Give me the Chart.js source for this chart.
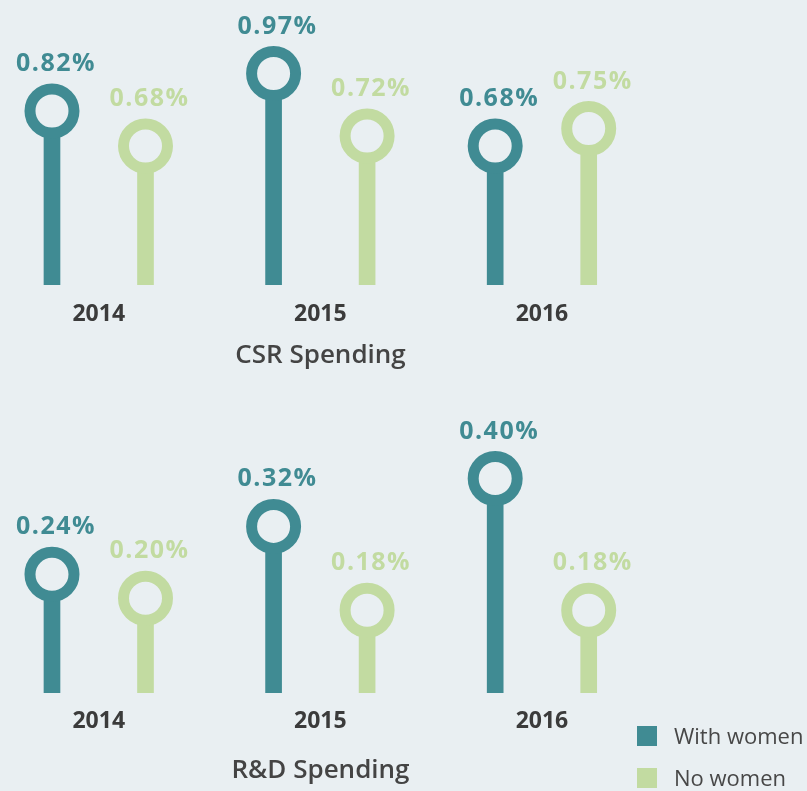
<!DOCTYPE html>
<html>
<head>
<meta charset="utf-8">
<script src="https://cdn.jsdelivr.net/npm/chart.js@4/dist/chart.umd.min.js"></script>
<style>
  html, body { margin: 0; padding: 0; background: #e9eff2; width: 807px; height: 791px; overflow: hidden; position: relative; font-family: "Open Sans", sans-serif; }
  .box { position: absolute; left: 0; width: 807px; }
  #c1wrap { top: 0; height: 380px; }
  #c2wrap { top: 390px; height: 401px; }
  .leg { position: absolute; left: 637px; height: 24px; white-space: nowrap; }
  .leg span.sw { position: absolute; left: 0; top: 3px; width: 20px; height: 20px; }
  .leg span.tx { position: absolute; left: 37px; top: -3px; font-size: 22px; line-height: 30px; color: #474747; }
</style>
</head>
<body>
<div class="box" id="c1wrap"><canvas id="c1" width="807" height="380"></canvas></div>
<div class="box" id="c2wrap"><canvas id="c2" width="807" height="401"></canvas></div>
<div class="leg" style="top:723px"><span class="sw" style="background:#408b93"></span><span class="tx">With women</span></div>
<div class="leg" style="top:765px"><span class="sw" style="background:#c2dba1"></span><span class="tx">No women</span></div>
<script>
// ---- data ----
const years = ['2014', '2015', '2016'];
const seriesNames = ['With women', 'No women'];
const csrWith = [0.82, 0.97, 0.68];
const csrNo   = [0.68, 0.72, 0.75];
const rdWith  = [0.24, 0.32, 0.40];
const rdNo    = [0.20, 0.18, 0.18];
const chartTitles = ['CSR Spending', 'R&D Spending'];

// ---- style ----
const BG = '#e9eff2';
const TEAL = '#408b93';
const GREEN = '#c2dba1';
const OFF = 0.211;

const labelPlugin = {
  id: 'pctLabels',
  afterDatasetsDraw(chart) {
    const ctx = chart.ctx;
    ctx.save();
    ctx.font = 'bold 25px "Open Sans", sans-serif';
    try { ctx.letterSpacing = '1.5px'; } catch (e) {}
    ctx.textAlign = 'center';
    ctx.textBaseline = 'alphabetic';
    chart.data.datasets.forEach((ds, di) => {
      if (ds.type !== 'scatter') return;
      const meta = chart.getDatasetMeta(di);
      meta.data.forEach((pt, i) => {
        const v = ds.data[i].y;
        ctx.fillStyle = ds.borderColor;
        ctx.fillText(v.toFixed(2) + '%', pt.x + 4, pt.y - 40);
      });
    });
    ctx.restore();
  }
};

function makeChart(id, withVals, noVals, yMin, yMax, title, axisH, tickPad, titlePadBottom) {
  const pts = (vals, off) => vals.map((v, i) => ({ x: i + off, y: v }));
  return new Chart(document.getElementById(id), {
    data: {
      datasets: [
        { type: 'scatter', label: seriesNames[0], data: pts(withVals, -OFF), order: 1,
          pointRadius: 22, pointHoverRadius: 22, borderWidth: 11, pointBorderWidth: 11,
          borderColor: TEAL, backgroundColor: BG, pointBackgroundColor: BG, pointBorderColor: TEAL },
        { type: 'scatter', label: seriesNames[1], data: pts(noVals, OFF), order: 1,
          pointRadius: 22, pointHoverRadius: 22, borderWidth: 11, pointBorderWidth: 11,
          borderColor: GREEN, backgroundColor: BG, pointBackgroundColor: BG, pointBorderColor: GREEN },
        { type: 'bar', label: seriesNames[0] + ' stem', data: pts(withVals, -OFF), order: 2,
          backgroundColor: TEAL, barThickness: 16, grouped: false },
        { type: 'bar', label: seriesNames[1] + ' stem', data: pts(noVals, OFF), order: 2,
          backgroundColor: GREEN, barThickness: 16, grouped: false }
      ]
    },
    options: {
      responsive: false,
      animation: false,
      events: [],
      layout: { autoPadding: false, padding: { left: 0, right: 166, top: 0, bottom: 0 } },
      plugins: { legend: { display: false }, tooltip: { enabled: false } },
      scales: {
        x: {
          type: 'linear',
          offset: false,
          min: -0.4456,
          max: 2.447,
          grid: { display: false, drawTicks: false, offset: false },
          border: { display: false },
          afterBuildTicks: (s) => { s.ticks = years.map((y, i) => ({ value: i })); },
          afterFit: (s) => { s.height = axisH; },
          ticks: {
            padding: tickPad,
            color: '#3b3b3b',
            font: { family: '"Open Sans", sans-serif', size: 23, weight: 'bold' },
            callback: (v) => years[v] !== undefined ? years[v] : ''
          },
          title: {
            display: true,
            text: title,
            color: '#444444',
            font: { family: '"Open Sans", sans-serif', size: 26, weight: '600' },
            padding: { top: 0, bottom: titlePadBottom }
          }
        },
        y: {
          display: false,
          min: yMin,
          max: yMax
        }
      }
    },
    plugins: [labelPlugin]
  });
}

makeChart('c1', csrWith, csrNo, 0.124, 1.264, chartTitles[0], 95, 16, 9);
makeChart('c2', rdWith, rdNo, 0.0417, 0.5479, chartTitles[1], 98, 15, 5);
</script>
</body>
</html>
